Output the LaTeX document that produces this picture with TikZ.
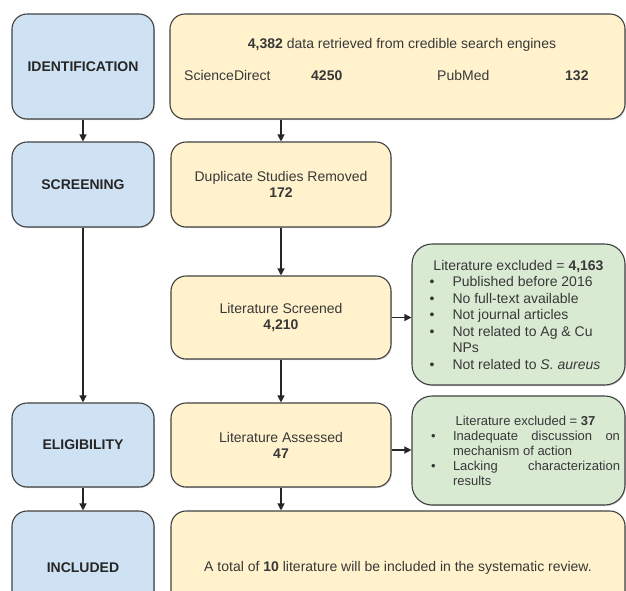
\documentclass[tikz,border=0pt]{standalone}
\usepackage{fontspec}
\setmainfont{Liberation Sans}
\usepackage{enumitem}
\usetikzlibrary{arrows.meta,shadows}
\definecolor{stageblue}{HTML}{CFE2F3}
\definecolor{stepyellow}{HTML}{FFF2CC}
\definecolor{exclgreen}{HTML}{D9EAD3}
\definecolor{boxline}{HTML}{404040}
\definecolor{txtgray}{HTML}{383838}

\tikzset{
  basebox/.style={draw=boxline, line width=1.1pt, rounded corners=15pt,
    text=txtgray, align=center, inner sep=0pt,
    font=\fontsize{14}{16}\selectfont,
    drop shadow={shadow xshift=0.8pt, shadow yshift=-1.2pt, opacity=0.3}},
  stagebox/.style={basebox, fill=stageblue, minimum width=142pt,
    text=black!85, font=\fontsize{14}{16}\selectfont\bfseries},
  stepbox/.style={basebox, fill=stepyellow},
  exclbox/.style={basebox, fill=exclgreen, rounded corners=20pt, minimum width=213pt},
  txt/.style={text=txtgray, inner sep=0pt, font=\fontsize{14}{16}\selectfont},
  flow/.style={-{Triangle[length=7pt,width=7pt]}, line width=1.2pt, black!85}
}
\setlist[itemize]{nosep, label=\textbullet, align=left, labelsep=0pt}

\begin{document}
\begin{tikzpicture}[x=1pt,y=-1pt]
  \useasboundingbox (0,0) rectangle (626,590);
  \clip (0,0) rectangle (626,590);

  % stages
  \node[stagebox, minimum height=105pt] (ident) at (83,66.5) {IDENTIFICATION};
  \node[stagebox, minimum height=85pt] (screen) at (83,184.5) {SCREENING};
  \node[stagebox, minimum height=84pt] (elig) at (83,445) {ELIGIBILITY};
  \node[stagebox, minimum height=114pt] (incl) at (83,568) {INCLUDED};

  % steps
  \node[stepbox, minimum width=455pt, minimum height=105pt] (search) at (397.5,66.5) {};
  \node[txt, anchor=base] (total) at (402,48) {\textbf{4,382} data retrieved from credible search engines};
  \node[txt, anchor=base west] (sd) at (184,80) {ScienceDirect};
  \node[txt, anchor=base west] (sdnum) at (311,80) {\textbf{4250}};
  \node[txt, anchor=base west] (pm) at (437,80) {PubMed};
  \node[txt, anchor=base west] (pmnum) at (565,80) {\textbf{132}};

  \node[stepbox, minimum width=220pt, minimum height=85pt] (dup) at (281,184.5) {Duplicate Studies Removed\\\textbf{172}};
  \node[stepbox, minimum width=220pt, minimum height=83pt] (screened) at (281,317.5) {Literature Screened\\\textbf{4,210}};
  \node[stepbox, minimum width=220pt, minimum height=84pt] (assessed) at (281,445) {Literature Assessed\\\textbf{47}};
  \node[stepbox, minimum width=454pt, minimum height=114pt] (final) at (398,568) {A total of \textbf{10} literature will be included in the systematic review.};

  % exclusions
  \node[exclbox, minimum height=141pt] (excl1) at (518.5,314.5) {%
    \begin{minipage}{178pt}\fontsize{14}{16.5}\selectfont\hyphenpenalty=10000
      {\centering Literature excluded = \textbf{4,163}\par}
      \begin{itemize}[leftmargin=23pt, labelwidth=23pt]\raggedright
        \item Published before 2016
        \item No full-text available
        \item Not journal articles
        \item Not related to Ag \& Cu NPs
        \item Not related to \textit{S. aureus}
      \end{itemize}
    \end{minipage}};
  \node[exclbox, minimum height=109pt] (excl2) at (518.5,450.5) {%
    \hspace*{14pt}\begin{minipage}{189pt}\fontsize{13}{15}\selectfont\hyphenpenalty=10000\tolerance=9999
      {\centering Literature excluded = \textbf{37}\par}
      \begin{itemize}[leftmargin=22pt, labelwidth=22pt]
        \item Inadequate discussion on mechanism of action
        \item Lacking characterization results
      \end{itemize}
    \end{minipage}};

  % connectors
  \draw[flow] (ident) -- (screen);
  \draw[flow] (screen) -- (elig);
  \draw[flow] (elig) -- (incl);
  \draw[flow] (search.south -| dup.north) -- (dup.north);
  \draw[flow] (dup) -- (screened);
  \draw[flow] (screened) -- (assessed);
  \draw[flow] (assessed.south) -- (assessed.south |- final.north);
  \draw[flow] (screened.east) -- (screened.east -| excl1.west);
  \draw[flow] ([yshift=-5pt]assessed.east) -- ([yshift=-5pt]assessed.east -| excl2.west);
\end{tikzpicture}
\end{document}
